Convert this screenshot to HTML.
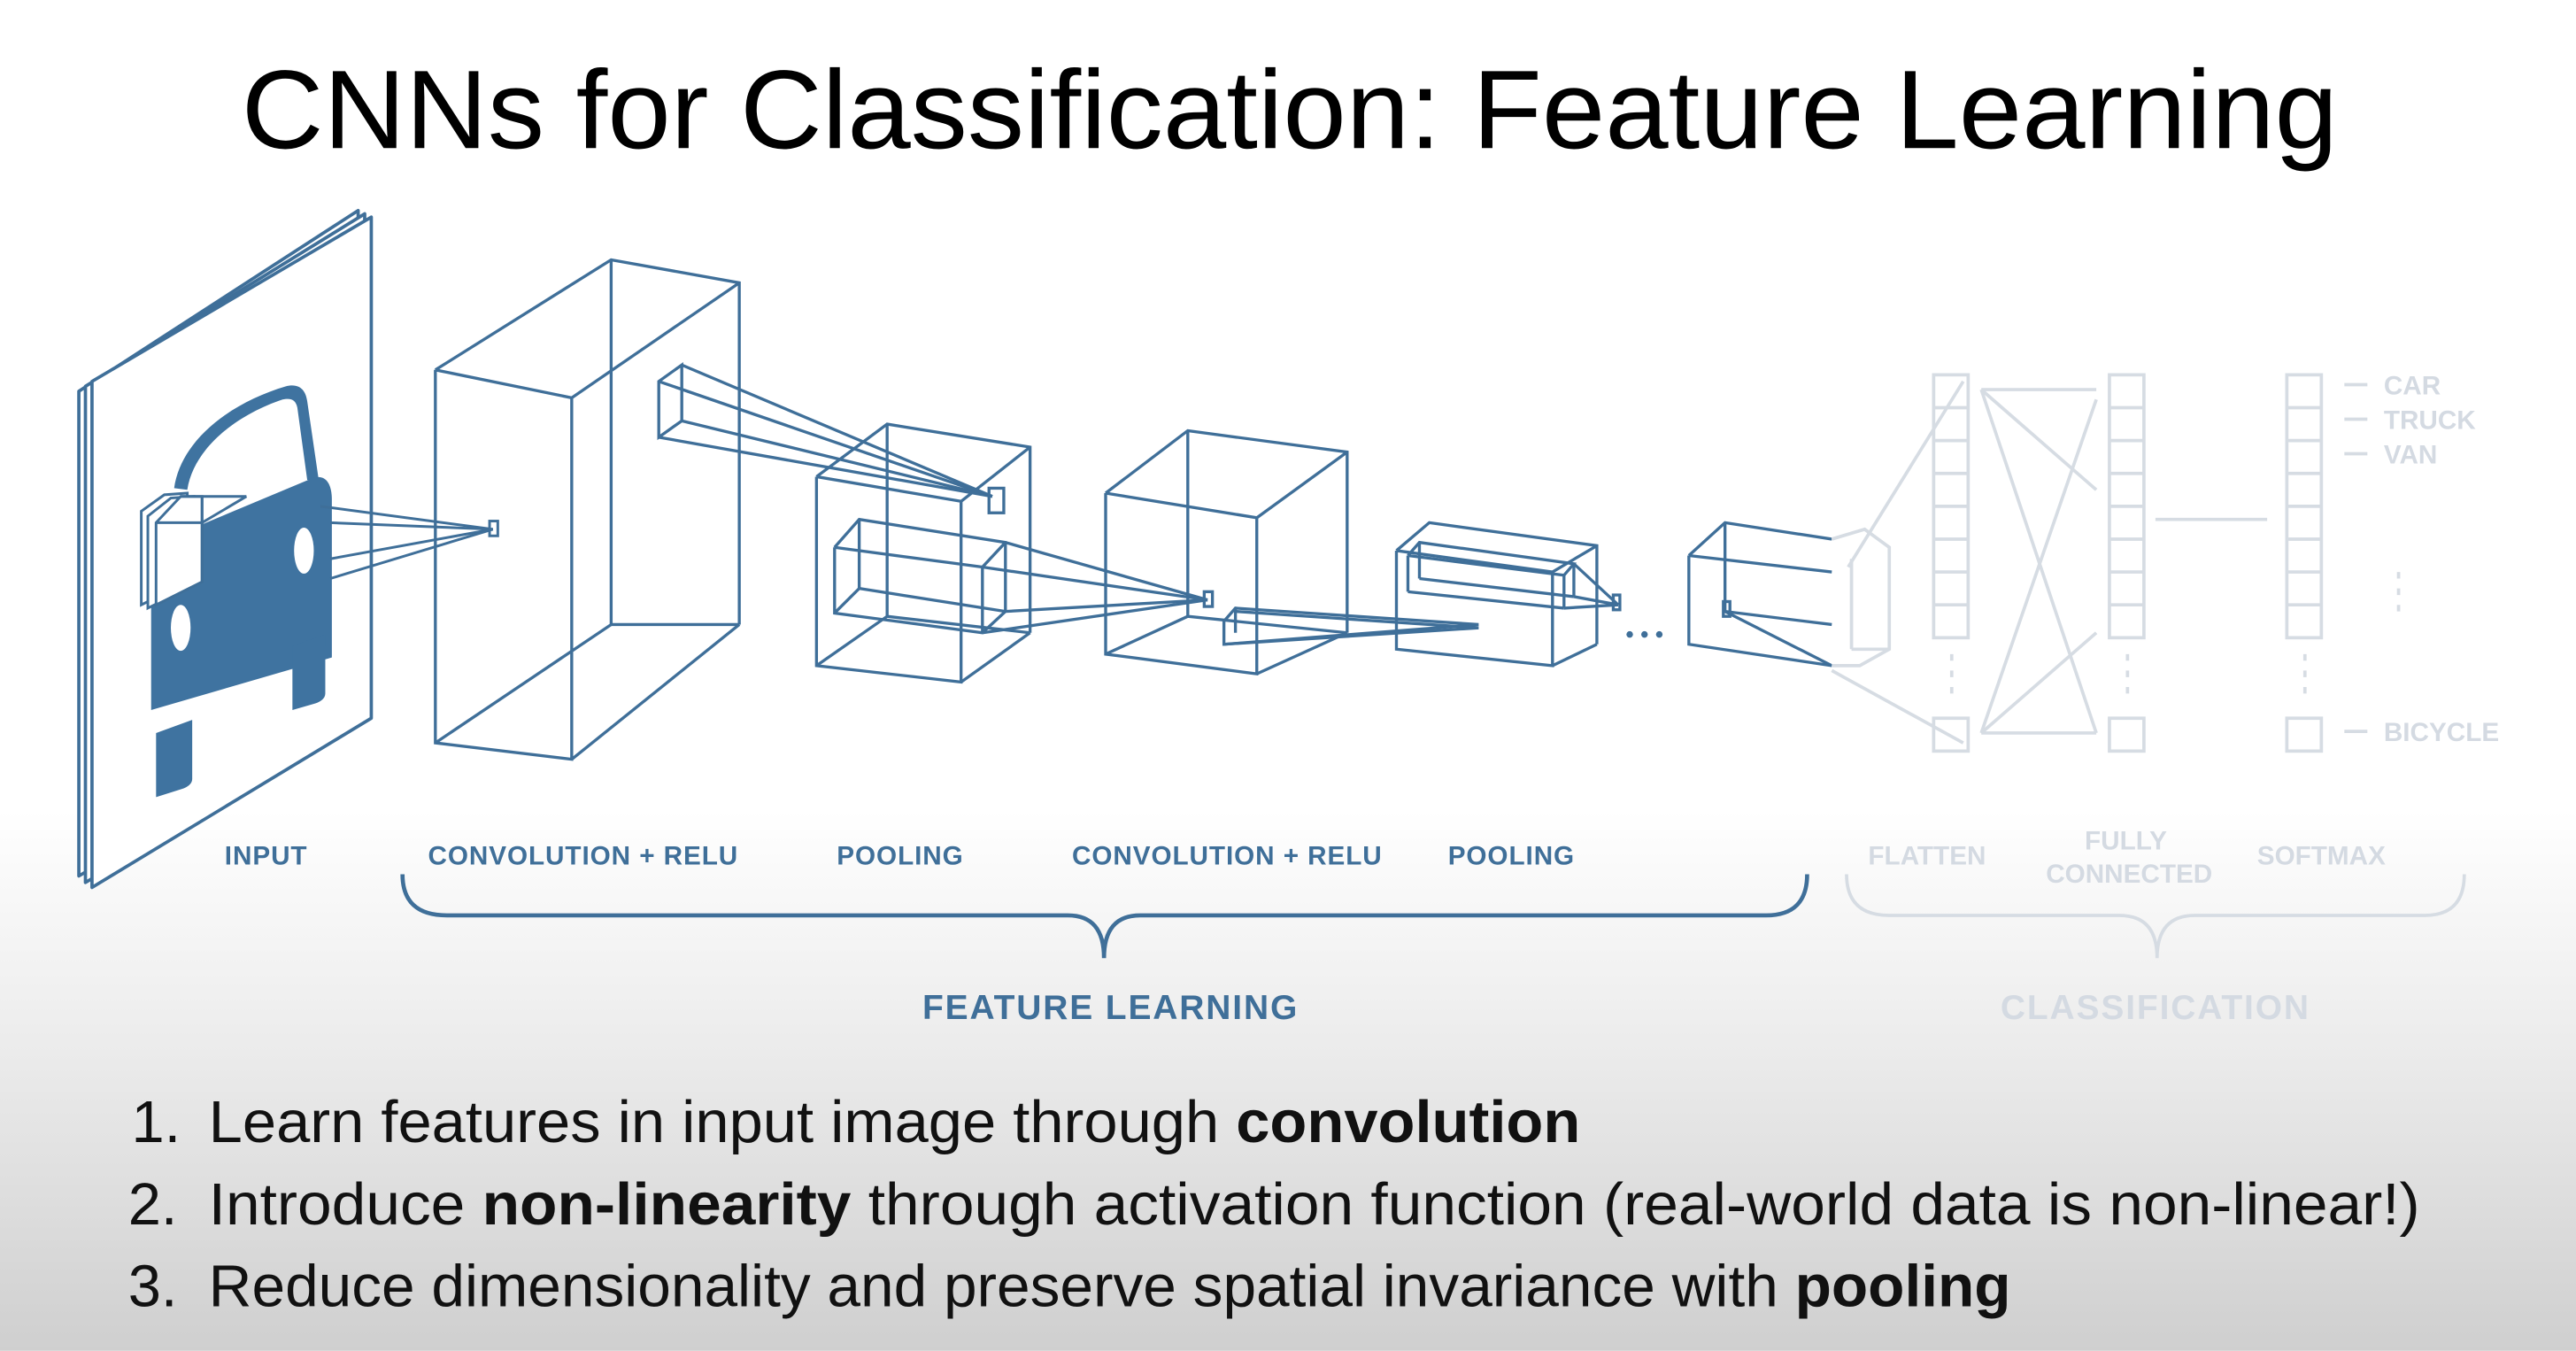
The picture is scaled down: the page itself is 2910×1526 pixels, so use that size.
<!DOCTYPE html>
<html><head><meta charset="utf-8"><style>
html,body{margin:0;padding:0;width:2910px;height:1526px;overflow:hidden;background:#fff}
svg{display:block}
</style></head><body>
<svg width="2910" height="1526" viewBox="0 0 1568 822" xmlns="http://www.w3.org/2000/svg">
<defs>
<linearGradient id="bg" x1="0" y1="0" x2="0" y2="1">
<stop offset="0" stop-color="#ffffff"/><stop offset="0.6" stop-color="#ffffff"/><stop offset="0.78" stop-color="#ebebeb"/><stop offset="1" stop-color="#cfcfcf"/>
</linearGradient>
</defs>
<rect width="1568" height="822" fill="url(#bg)"/>
<text x="147" y="90" font-family="Liberation Sans, sans-serif" font-size="68" fill="#000" textLength="1276" lengthAdjust="spacingAndGlyphs">CNNs for Classification: Feature Learning</text>

<g fill="none" stroke="#3f6f99" stroke-width="2" stroke-linejoin="round">
<polygon points="48,238 218,128 218,433 48,533" fill="#fff"/>
<polygon points="52,235 222,130 222,435 52,537" fill="#fff"/>
<polygon points="56,232 226,132 226,437 56,540" fill="#fff"/>
</g>
<!-- car -->
<g fill="#3f73a0">
<path d="M106,297 C110,268 140,245 174,235 C182,233 186,237 187,244 L194,292 L187,292 L181,248 C180,243 177,242 172,243 C145,252 118,272 114,298 Z"/>
<path d="M92,332 L190,291 C198,288 202,294 202,304 L202,400 L92,432 Z"/>
<path d="M95,446 L117,438 L117,474 C117,477 114,479 111,480 L95,485 Z"/>
<path d="M178,393 L198,386 L198,422 C198,425 195,427 192,428 L178,432 Z"/>
</g>
<ellipse cx="110" cy="382" rx="6" ry="14" fill="#fff"/>
<ellipse cx="185" cy="335" rx="6" ry="14" fill="#fff"/>
<g fill="none" stroke="#3f6f99" stroke-width="1.6">
<polygon points="86,311 100,301 114,300 114,354 86,368" fill="#fff"/>
<polygon points="90,314 104,303 118,302 118,356 90,370" fill="#fff"/>
<polygon points="95,318 110,302 123,302 123,354 95,368" fill="#fff"/>
<line x1="123" y1="302" x2="123" y2="318"/>
<polyline points="95,318 123,318 123,354" />
<line x1="110" y1="302" x2="150" y2="302"/><line x1="123" y1="318" x2="150" y2="302"/>
<line x1="195" y1="308" x2="300" y2="322"/><line x1="201" y1="318" x2="300" y2="322"/>
<line x1="201" y1="340" x2="300" y2="322"/><line x1="201" y1="352" x2="300" y2="322"/>
<rect x="298" y="317" width="5" height="9"/>
</g>
<g fill="none" stroke="#3f6f99" stroke-width="1.8">
<!-- conv box 1 -->
<polyline points="265,225 372,158 450,172 450,380"/>
<polyline points="265,225 348,242 348,462 265,452 265,225"/>
<line x1="348" y1="242" x2="450" y2="172"/><line x1="348" y1="462" x2="450" y2="380"/>
<line x1="372" y1="158" x2="372" y2="380"/><line x1="372" y1="380" x2="450" y2="380"/><line x1="265" y1="452" x2="372" y2="380"/>
<polygon points="401,232 415,222 415,256 401,266"/>
<line x1="415" y1="222" x2="604" y2="302"/><line x1="415" y1="256" x2="604" y2="302"/>
<line x1="401" y1="232" x2="604" y2="302"/><line x1="401" y1="266" x2="604" y2="302"/>
<rect x="602" y="297" width="9" height="15"/>
<!-- pool 1 -->
<polyline points="497,290 540,258 627,272 627,385"/>
<polyline points="497,290 585,305 585,415 497,405 497,290"/>
<line x1="585" y1="305" x2="627" y2="272"/><line x1="585" y1="415" x2="627" y2="385"/>
<line x1="540" y1="258" x2="540" y2="375"/><line x1="540" y1="375" x2="627" y2="385"/><line x1="497" y1="405" x2="540" y2="375"/>
<polyline points="508,333 523,316 612,330 612,372 598,385 508,373 508,333"/>
<line x1="523" y1="316" x2="523" y2="358"/><line x1="523" y1="358" x2="612" y2="372"/><line x1="508" y1="373" x2="523" y2="358"/>
<line x1="598" y1="345" x2="598" y2="385"/><line x1="508" y1="333" x2="598" y2="345"/><line x1="598" y1="345" x2="612" y2="330"/>
<line x1="612" y1="330" x2="735" y2="365"/><line x1="612" y1="372" x2="735" y2="365"/><line x1="598" y1="345" x2="735" y2="365"/><line x1="598" y1="385" x2="735" y2="365"/>
<!-- conv 2 -->
<polyline points="673,300 723,262 820,275 820,385"/>
<polyline points="673,300 765,315 765,410 673,398 673,300"/>
<line x1="765" y1="315" x2="820" y2="275"/><line x1="765" y1="410" x2="820" y2="385"/>
<line x1="723" y1="262" x2="723" y2="375"/><line x1="723" y1="375" x2="820" y2="385"/><line x1="673" y1="398" x2="723" y2="375"/>
<rect x="733" y="360" width="5" height="9"/>
<polygon points="745,378 752,370 900,380 745,392"/>
<line x1="752" y1="370" x2="752" y2="385"/>
<line x1="752" y1="372" x2="900" y2="382"/><line x1="745" y1="392" x2="900" y2="382"/>
<!-- pool 2 -->
<polyline points="850,335 870,318 972,332 972,392"/>
<polyline points="850,335 945,348 945,405 850,395 850,335"/>
<line x1="945" y1="348" x2="972" y2="332"/><line x1="945" y1="405" x2="972" y2="392"/>
<polyline points="857,338 864,330 958,343 952,350 857,338"/>
<line x1="857" y1="338" x2="857" y2="360"/><line x1="857" y1="360" x2="952" y2="370"/><line x1="952" y1="350" x2="952" y2="370"/>
<line x1="864" y1="330" x2="864" y2="352"/><line x1="864" y1="352" x2="958" y2="363"/><line x1="958" y1="343" x2="958" y2="363"/>
<line x1="958" y1="343" x2="985" y2="368"/><line x1="952" y1="370" x2="985" y2="368"/><line x1="958" y1="363" x2="985" y2="368"/>
<rect x="982" y="362" width="4" height="9"/>
<!-- last -->
<polyline points="1028,338 1050,318 1115,328"/>
<polyline points="1028,338 1028,392 1115,405"/>
<line x1="1028" y1="338" x2="1115" y2="348"/>
<line x1="1050" y1="318" x2="1050" y2="372"/><line x1="1050" y1="372" x2="1115" y2="380"/><line x1="1050" y1="372" x2="1115" y2="405"/>
<rect x="1049" y="366" width="4" height="9"/>
</g>
<g fill="#3f6f99"><circle cx="992" cy="386" r="2"/><circle cx="1001" cy="386" r="2"/><circle cx="1010" cy="386" r="2"/></g>

<g fill="none" stroke="#d6dce3" stroke-width="2">
<polyline points="1115,328 1135,322 1150,333 1150,395 1132,405 1115,405"/>
<line x1="1127" y1="340" x2="1127" y2="395"/><line x1="1127" y1="395" x2="1150" y2="395"/>
<line x1="1125" y1="345" x2="1195" y2="232"/><line x1="1115" y1="408" x2="1195" y2="452"/>
<rect x="1177" y="228" width="21" height="160"/>
<line x1="1177" y1="248" x2="1198" y2="248"/><line x1="1177" y1="268" x2="1198" y2="268"/><line x1="1177" y1="288" x2="1198" y2="288"/><line x1="1177" y1="308" x2="1198" y2="308"/><line x1="1177" y1="328" x2="1198" y2="328"/><line x1="1177" y1="348" x2="1198" y2="348"/><line x1="1177" y1="368" x2="1198" y2="368"/>
<rect x="1177" y="437" width="21" height="20"/>
<rect x="1284" y="228" width="21" height="160"/>
<line x1="1284" y1="248" x2="1305" y2="248"/><line x1="1284" y1="268" x2="1305" y2="268"/><line x1="1284" y1="288" x2="1305" y2="288"/><line x1="1284" y1="308" x2="1305" y2="308"/><line x1="1284" y1="328" x2="1305" y2="328"/><line x1="1284" y1="348" x2="1305" y2="348"/><line x1="1284" y1="368" x2="1305" y2="368"/>
<rect x="1284" y="437" width="21" height="20"/>
<rect x="1392" y="228" width="21" height="160"/>
<line x1="1392" y1="248" x2="1413" y2="248"/><line x1="1392" y1="268" x2="1413" y2="268"/><line x1="1392" y1="288" x2="1413" y2="288"/><line x1="1392" y1="308" x2="1413" y2="308"/><line x1="1392" y1="328" x2="1413" y2="328"/><line x1="1392" y1="348" x2="1413" y2="348"/><line x1="1392" y1="368" x2="1413" y2="368"/>
<rect x="1392" y="437" width="21" height="20"/>
<line x1="1206" y1="237" x2="1276" y2="237"/><line x1="1206" y1="446" x2="1276" y2="446"/>
<line x1="1206" y1="237" x2="1276" y2="446"/><line x1="1206" y1="446" x2="1276" y2="243"/>
<line x1="1206" y1="237" x2="1276" y2="298"/><line x1="1206" y1="446" x2="1276" y2="385"/>
<line x1="1312" y1="316" x2="1380" y2="316"/>
<line x1="1427" y1="234" x2="1441" y2="234"/><line x1="1427" y1="255" x2="1441" y2="255"/><line x1="1427" y1="276" x2="1441" y2="276"/><line x1="1427" y1="445" x2="1441" y2="445"/>
<line x1="1188" y1="398" x2="1188" y2="425" stroke-dasharray="4,6"/>
<line x1="1295" y1="398" x2="1295" y2="425" stroke-dasharray="4,6"/>
<line x1="1403" y1="398" x2="1403" y2="425" stroke-dasharray="4,6"/>
<line x1="1460" y1="348" x2="1460" y2="375" stroke-dasharray="4,6"/>
<path d="M1124,532 Q1124,557 1150,557 L1290,557 Q1313,557 1313,583 Q1313,557 1336,557 L1476,557 Q1500,557 1500,532"/>
</g>
<g font-family="Liberation Sans, sans-serif" font-weight="bold" font-size="16" fill="#d4dae2">
<text x="1451" y="240">CAR</text><text x="1451" y="261">TRUCK</text><text x="1451" y="282">VAN</text><text x="1451" y="451">BICYCLE</text>
<text x="1173" y="526" text-anchor="middle">FLATTEN</text>
<text x="1294" y="517" text-anchor="middle">FULLY</text>
<text x="1296" y="537" text-anchor="middle">CONNECTED</text>
<text x="1413" y="526" text-anchor="middle">SOFTMAX</text>
<text x="1312" y="620" text-anchor="middle" font-size="21" letter-spacing="1">CLASSIFICATION</text>
</g>

<g font-family="Liberation Sans, sans-serif" font-weight="bold" font-size="16" fill="#3f6f99" letter-spacing="0.5">
<text x="162" y="526" text-anchor="middle">INPUT</text>
<text x="355" y="526" text-anchor="middle">CONVOLUTION + RELU</text>
<text x="548" y="526" text-anchor="middle">POOLING</text>
<text x="747" y="526" text-anchor="middle">CONVOLUTION + RELU</text>
<text x="920" y="526" text-anchor="middle">POOLING</text>
<text x="676" y="620" text-anchor="middle" font-size="21" letter-spacing="1">FEATURE LEARNING</text>
</g>
<path d="M245,532 Q245,557 272,557 L650,557 Q672,557 672,583 Q672,557 694,557 L1075,557 Q1100,557 1100,532" fill="none" stroke="#3f6f99" stroke-width="2.5"/>

<g font-family="Liberation Sans, sans-serif" font-size="36" fill="#111">
<text x="80" y="695">1.</text>
<text x="127" y="695" textLength="835" lengthAdjust="spacingAndGlyphs">Learn features in input image through <tspan font-weight="bold">convolution</tspan></text>
<text x="78" y="745">2.</text>
<text x="127" y="745" textLength="1346" lengthAdjust="spacingAndGlyphs">Introduce <tspan font-weight="bold">non-linearity</tspan> through activation function (real-world data is non-linear!)</text>
<text x="78" y="795">3.</text>
<text x="127" y="795" textLength="1097" lengthAdjust="spacingAndGlyphs">Reduce dimensionality and preserve spatial invariance with <tspan font-weight="bold">pooling</tspan></text>
</g>
</svg>
</body></html>
